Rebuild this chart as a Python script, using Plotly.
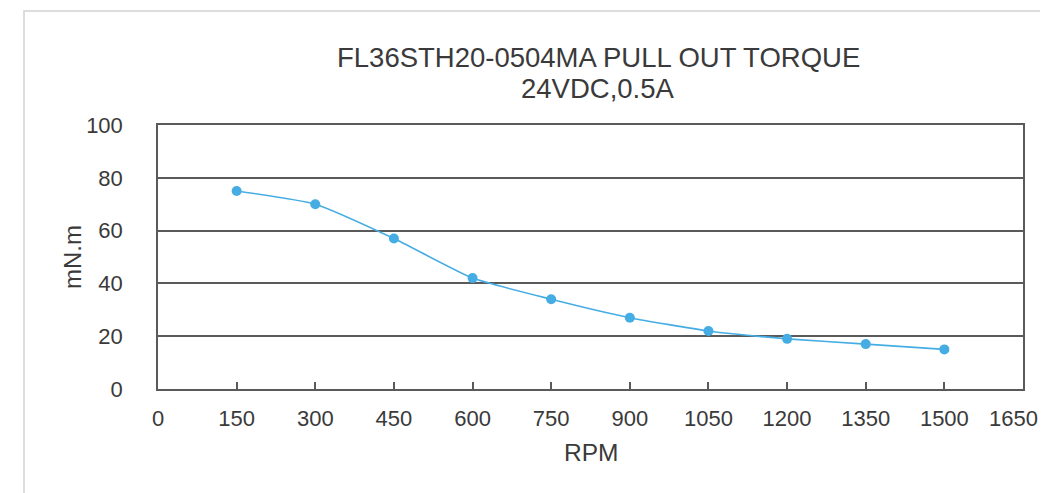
import plotly.graph_objects as go

rpm = [150, 300, 450, 600, 750, 900, 1050, 1200, 1350, 1500]
torque = [75, 70, 57, 42, 34, 27, 22, 19, 17, 15]
x_ticks = [0, 150, 300, 450, 600, 750, 900, 1050, 1200, 1350, 1500, 1650]
y_ticks = [0, 20, 40, 60, 80, 100]
title_lines = ["FL36STH20-0504MA PULL OUT TORQUE", "24VDC,0.5A"]
x_title = "RPM"
y_title = "mN.m"

FONT = "Liberation Sans, Arial, sans-serif"
GRID = "#5a5a5a"
TXT = "#3a3a3a"

fig = go.Figure()
fig.add_trace(go.Scatter(
    x=rpm, y=torque, mode="lines+markers",
    line=dict(color="#45ade3", width=1.6, shape="spline", smoothing=0.5),
    marker=dict(color="#45ade3", size=10),
    showlegend=False,
))

# page has an 8px body margin -> figure origin at (8, 8) on the page;
# figure is a bit wider than the window so the last tick label has room
OFF = 8
W, H = 1060, 485
L, R, T, B = 150, 45, 117, 104
pw, ph = W - L - R, H - T - B


def px_x(page_x):
    return (page_x - OFF - L) / pw


def px_y(page_y):
    return (H - B - (page_y - OFF)) / ph


# the last x label sits at the window edge: draw it right-aligned to its tick
x_ticktext = [str(v) for v in x_ticks[:-1]] + [""]

annotations = [
    dict(text=title_lines[0], x=px_x(598), y=px_y(57), xref="paper", yref="paper",
         xanchor="center", yanchor="middle", showarrow=False,
         font=dict(size=27.5, color=TXT, family=FONT)),
    dict(text=title_lines[1], x=px_x(598), y=px_y(88), xref="paper", yref="paper",
         xanchor="center", yanchor="middle", showarrow=False,
         font=dict(size=27.5, color=TXT, family=FONT)),
    dict(text=x_title, x=px_x(591), y=px_y(452), xref="paper", yref="paper",
         xanchor="center", yanchor="middle", showarrow=False,
         font=dict(size=24.5, color=TXT, family=FONT)),
    dict(text=y_title, x=px_x(72), y=px_y(257), xref="paper", yref="paper",
         xanchor="center", yanchor="middle", showarrow=False, textangle=-90,
         font=dict(size=24, color=TXT, family=FONT)),
    dict(text=str(x_ticks[-1]), x=x_ticks[-1], xref="x", y=0, yref="paper",
         xanchor="right", xshift=17, yanchor="middle", yshift=-29,
         showarrow=False, font=dict(size=22, color=TXT, family=FONT)),
]

fig.update_layout(
    width=W, height=H,
    margin=dict(l=L, r=R, t=T, b=B),
    paper_bgcolor="white", plot_bgcolor="white",
    font=dict(family=FONT, color=TXT),
    annotations=annotations,
    xaxis=dict(
        range=[0, 1650], tickvals=x_ticks, ticktext=x_ticktext,
        ticks="inside", ticklen=7, tickwidth=1.5, tickcolor=GRID,
        showline=True, linecolor=GRID, linewidth=1.5, mirror=True,
        showgrid=False, zeroline=False,
        tickfont=dict(size=22, color=TXT), ticklabelstandoff=9,
    ),
    yaxis=dict(
        range=[0, 100], tickvals=y_ticks,
        ticks="", showline=True, linecolor=GRID, linewidth=1.5, mirror=True,
        showgrid=True, gridcolor=GRID, gridwidth=1.5, zeroline=False,
        tickfont=dict(size=22, color=TXT), ticklabelstandoff=29,
    ),
    shapes=[
        dict(type="rect", xref="paper", yref="paper",
             x0=px_x(24), x1=px_x(1100),
             y0=px_y(560), y1=px_y(11),
             line=dict(color="#d2d2d2", width=1.5), layer="below"),
    ],
)

fig.write_html("out.html")
